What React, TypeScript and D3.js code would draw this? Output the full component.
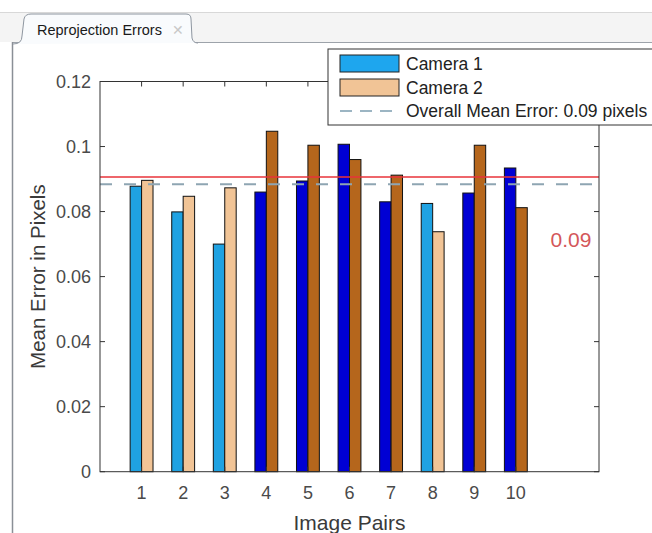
import React, { useRef, useEffect } from 'react';
import * as d3 from 'd3';

// values
const pairs = [1, 2, 3, 4, 5, 6, 7, 8, 9, 10];
const camera1 = [0.0878, 0.0799, 0.07, 0.086, 0.0894, 0.1007, 0.083, 0.0825, 0.0857, 0.0934];
const camera2 = [0.0896, 0.0847, 0.0873, 0.1047, 0.1004, 0.096, 0.0912, 0.0738, 0.1004, 0.0812];
// pairs drawn in the light (highlighted) colours
const highlighted = [true, true, true, false, false, false, false, true, false, false];
const yTicks = [0, 0.02, 0.04, 0.06, 0.08, 0.1, 0.12];
const overallMean = 0.0884;
const threshold = 0.0906;
const legendLabels = ['Camera 1', 'Camera 2', 'Overall Mean Error: 0.09 pixels'];

const FONT = '"Liberation Sans", Arial, sans-serif';

const App = () => {
  const ref = useRef<SVGSVGElement>(null);

  useEffect(() => {
    const svg = d3.select(ref.current);
    svg.selectAll('*').remove();

    const x = d3.scaleLinear().domain([0, 12]).range([100, 599]);
    const y = d3.scaleLinear().domain([0, 0.12]).range([471.7, 81.5]);
    const bw = 0.275;

    // window frame + tab
    svg.append('rect').attr('width', 652).attr('height', 533).attr('fill', '#fff');
    svg.append('rect').attr('x', 0).attr('y', 12).attr('width', 652).attr('height', 30).attr('fill', '#f4f4f4');
    svg.append('line').attr('x1', 0).attr('x2', 652).attr('y1', 12.5).attr('y2', 12.5).attr('stroke', '#d8d8d8');
    svg.append('line').attr('x1', 12).attr('x2', 652).attr('y1', 42.5).attr('y2', 42.5).attr('stroke', '#9da3aa');
    svg.append('line').attr('x1', 12.5).attr('x2', 12.5).attr('y1', 42).attr('y2', 533).attr('stroke', '#8a8f96').attr('stroke-width', 1.5);
    svg.append('path')
      .attr('d', 'M13,44 Q22,44 22,36 L24,19 Q25,14 31,14 L186,14 Q191,14 191,19 L192,38 Q193,43 198,43')
      .attr('fill', '#f9fbfd').attr('stroke', '#8e96a0');
    svg.append('text').attr('x', 37).attr('y', 35).attr('font-family', FONT).attr('font-size', 14.5)
      .attr('fill', '#1a1a1a').text('Reprojection Errors');
    svg.append('text').attr('x', 178).attr('y', 35).attr('font-family', FONT).attr('font-size', 14)
      .attr('text-anchor', 'middle').attr('fill', '#c8c8c8').text('✕');

    const g = svg.append('g');

    // bars
    pairs.forEach((p, i) => {
      g.append('rect')
        .attr('x', x(p - bw)).attr('y', y(camera1[i]))
        .attr('width', x(p) - x(p - bw)).attr('height', y(0) - y(camera1[i]))
        .attr('fill', highlighted[i] ? '#1fa2e2' : '#0000d4')
        .attr('stroke', '#111').attr('stroke-width', 1);
      g.append('rect')
        .attr('x', x(p)).attr('y', y(camera2[i]))
        .attr('width', x(p + bw) - x(p)).attr('height', y(0) - y(camera2[i]))
        .attr('fill', highlighted[i] ? '#f1c496' : '#b5661c')
        .attr('stroke', '#111').attr('stroke-width', 1);
    });

    // mean + threshold lines
    g.append('line').attr('x1', x(0)).attr('x2', x(12)).attr('y1', y(overallMean)).attr('y2', y(overallMean))
      .attr('stroke', '#8ea5b2').attr('stroke-width', 2).attr('stroke-dasharray', '12,12');
    g.append('line').attr('x1', x(0)).attr('x2', x(12)).attr('y1', y(threshold)).attr('y2', y(threshold))
      .attr('stroke', '#e8333a').attr('stroke-width', 1.5);

    // axes box
    g.append('rect').attr('x', x(0)).attr('y', y(0.12)).attr('width', x(12) - x(0)).attr('height', y(0) - y(0.12))
      .attr('fill', 'none').attr('stroke', '#333').attr('stroke-width', 1);

    yTicks.forEach(t => {
      g.append('line').attr('x1', x(0)).attr('x2', x(0) + 5).attr('y1', y(t)).attr('y2', y(t)).attr('stroke', '#333');
      g.append('line').attr('x1', x(12)).attr('x2', x(12) - 5).attr('y1', y(t)).attr('y2', y(t)).attr('stroke', '#333');
      g.append('text').attr('x', 91).attr('y', y(t)).attr('dy', '0.35em').attr('text-anchor', 'end')
        .attr('font-family', FONT).attr('font-size', 18).attr('fill', '#4a4a4a').text(d3.format('~g')(t));
    });
    pairs.forEach(p => {
      g.append('line').attr('x1', x(p)).attr('x2', x(p)).attr('y1', y(0)).attr('y2', y(0) - 5).attr('stroke', '#333');
      g.append('line').attr('x1', x(p)).attr('x2', x(p)).attr('y1', y(0.12)).attr('y2', y(0.12) + 5).attr('stroke', '#333');
      g.append('text').attr('x', x(p)).attr('y', 499).attr('text-anchor', 'middle')
        .attr('font-family', FONT).attr('font-size', 18).attr('fill', '#4a4a4a').text(p);
    });

    g.append('text').attr('x', (x(0) + x(12)) / 2).attr('y', 530).attr('text-anchor', 'middle')
      .attr('font-family', FONT).attr('font-size', 21).attr('fill', '#3a3a3a').text('Image Pairs');
    g.append('text').attr('transform', `translate(45, ${(y(0) + y(0.12)) / 2}) rotate(-90)`)
      .attr('text-anchor', 'middle').attr('font-family', FONT).attr('font-size', 20.5)
      .attr('fill', '#3a3a3a').text('Mean Error in Pixels');

    g.append('text').attr('x', 571).attr('y', y(0.0714)).attr('dy', '0.35em').attr('text-anchor', 'middle')
      .attr('font-family', FONT).attr('font-size', 21).attr('fill', '#d4575a').text('0.09');

    // legend
    const lg = svg.append('g');
    lg.append('rect').attr('x', 328).attr('y', 49).attr('width', 340).attr('height', 76)
      .attr('fill', '#fff').attr('stroke', '#333');
    lg.append('rect').attr('x', 340).attr('y', 55).attr('width', 59).attr('height', 17)
      .attr('fill', '#1ea6ee').attr('stroke', '#222');
    lg.append('rect').attr('x', 340).attr('y', 79).attr('width', 59).attr('height', 17)
      .attr('fill', '#f1c496').attr('stroke', '#222');
    lg.append('line').attr('x1', 340).attr('x2', 399).attr('y1', 111).attr('y2', 111)
      .attr('stroke', '#7c9db0').attr('stroke-width', 1.5).attr('stroke-dasharray', '12,8');
    legendLabels.forEach((label, i) => {
      lg.append('text').attr('x', 406).attr('y', 64 + i * 23.5).attr('dy', '0.35em')
        .attr('font-family', FONT).attr('font-size', 17.5).attr('fill', '#222').text(label);
    });
  }, []);

  return (
    <svg ref={ref} width={652} height={533} style={{ position: 'absolute', left: 0, top: 0 }} />
  );
};

export default App;
